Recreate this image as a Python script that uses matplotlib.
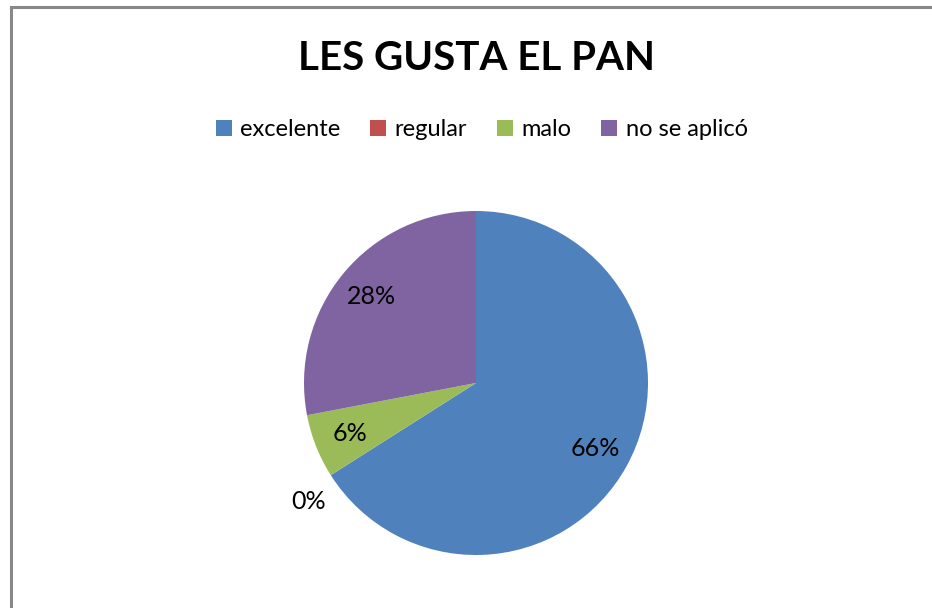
import matplotlib
matplotlib.use("Agg")
import matplotlib.pyplot as plt
from matplotlib.patches import Rectangle
from matplotlib.lines import Line2D
import numpy as np

plt.rcParams['font.family'] = ['Lato', 'DejaVu Sans']

# data
categorias = ['excelente', 'regular', 'malo', 'no se aplicó']
porcentajes = [66, 0, 6, 28]
colores = ['#4F81BD', '#C0504D', '#9BBB59', '#8064A2']
titulo = 'LES GUSTA EL PAN'

W, H = 932, 608
fig = plt.figure(figsize=(W / 100, H / 100), dpi=100, facecolor='white')

# outer chart frame (cut off at right/bottom like the reference)
fig.patches.append(Rectangle((10.5 / W, -0.05), 1.1, (H - 6.5) / H + 0.05,
                             transform=fig.transFigure, fill=False,
                             edgecolor='#888888', linewidth=2.2))

# pie axes: centre (476, 383) px, radius 172 px
cx, cy, r = 476, 383, 172
ax = fig.add_axes([(cx - r) / W, (H - cy - r) / H, 2 * r / W, 2 * r / H])
wedges, texts, autotexts = ax.pie(porcentajes, colors=colores, startangle=90,
                                  counterclock=False, autopct='%1.0f%%',
                                  pctdistance=0.79, radius=1,
                                  wedgeprops=dict(linewidth=0),
                                  textprops=dict(fontsize=18, color='black'))
ax.set_xlim(-1, 1)
ax.set_ylim(-1, 1)
ax.set_aspect('auto')

# zero slice label sits outside the pie
for w, t, v in zip(wedges, autotexts, porcentajes):
    if v == 0:
        ang = np.deg2rad(w.theta1) + 0.05
        t.set_position((1.19 * np.cos(ang), 1.19 * np.sin(ang)))

fig.text(cx / W, 1 - 59 / H, titulo, ha='center', va='center',
         fontsize=29, fontweight='bold')

handles = [Line2D([], [], marker='s', linestyle='none', markersize=12,
                  markerfacecolor=c, markeredgewidth=0) for c in colores]
fig.legend(handles, categorias, loc='center', bbox_to_anchor=(481 / W, 1 - 130 / H),
           ncol=4, frameon=False, fontsize=17, handlelength=0.8,
           handletextpad=0.3, columnspacing=1.2)

fig.savefig('out.png', dpi=100, facecolor='white')
